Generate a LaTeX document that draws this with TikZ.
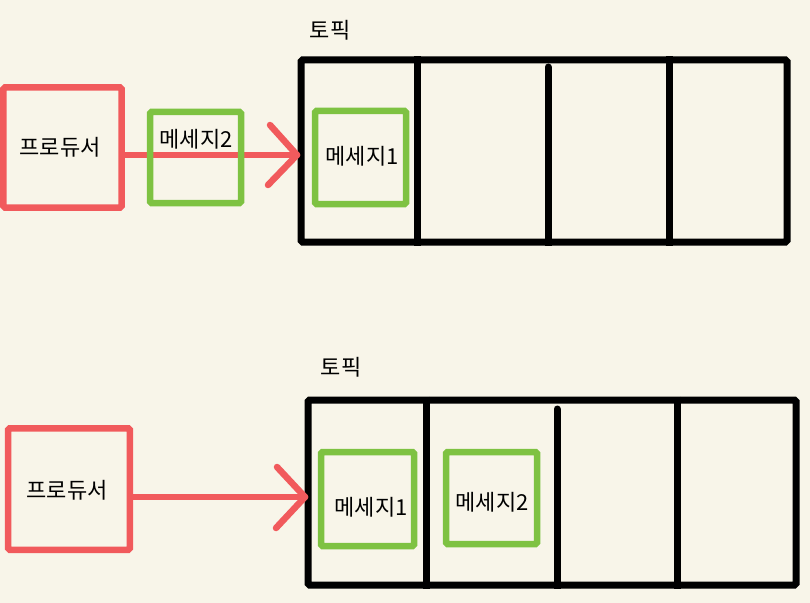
\documentclass[tikz,border=0pt]{standalone}
\usepackage{fontspec}
\newfontfamily\kr{Noto Sans CJK KR}
\usetikzlibrary{calc}
\definecolor{bgc}{HTML}{F8F5E9}
\definecolor{redc}{HTML}{F15A5C}
\definecolor{greenc}{HTML}{7EC242}
\tikzset{
  x=1bp, y=-1bp,
  prodbox/.style={draw=redc, line width=6.5bp, rounded corners=1.5bp, inner sep=0pt},
  msgbox/.style={draw=greenc, line width=6.5bp, rounded corners=1.5bp, inner sep=0pt},
  topicbox/.style={draw=black, line width=7bp, rounded corners=1.5bp, inner sep=0pt},
  divider/.style={draw=black, line width=7bp, line cap=butt},
  redline/.style={draw=redc, line width=6.5bp, line cap=round, line join=round},
  txt/.style={font=\kr\fontsize{22bp}{24bp}\selectfont, inner sep=0pt, text=black},
}
\begin{document}
\begin{tikzpicture}
\fill[bgc] (0,0) rectangle (810,603);
\useasboundingbox (0,0) rectangle (810,603);

% ---------- top ----------
\node[topicbox, minimum width=486bp, minimum height=182bp] (t1) at (544,151) {};
\draw[divider] (t1.north -| 417,0) -- (t1.south -| 417,0);
\draw[divider, line cap=round] (548,67) -- (548,239);
\draw[divider] (548,239) -- (t1.south -| 548,0);
\draw[divider] (t1.north -| 669,0) -- (t1.south -| 669,0);
\node[txt] (t1lab) at (330,30) {토픽};

\node[prodbox, minimum width=118bp, minimum height=120bp] (p1) at (62.5,147.5) {};
\node[txt] (p1lab) at (60,147) {프로듀서};

\coordinate (tip1) at (297,155);
\draw[redline] (p1.east |- tip1) -- (tip1);
\draw[redline] ($(tip1)+(-27,-30)$) -- (tip1) -- ($(tip1)+(-29,30)$);

\node[msgbox, minimum width=91bp, minimum height=91bp] (m2a) at (195.5,157.5) {};
\node[txt] (m2alab) at (196,139) {메세지2};

\node[msgbox, minimum width=91bp, minimum height=93bp] (m1a) at (360.5,157.5) {};
\node[txt] (m1alab) at (362,156) {메세지1};

% ---------- bottom ----------
\node[topicbox, minimum width=488bp, minimum height=185bp] (t2) at (552,492.5) {};
\draw[divider] (t2.north -| 426,0) -- (t2.south -| 426,0);
\draw[divider, line cap=round] (557,409) -- (557,582);
\draw[divider] (557,582) -- (t2.south -| 557,0);
\draw[divider] (t2.north -| 677,0) -- (t2.south -| 677,0);
\node[txt] (t2lab) at (341,367) {토픽};

\node[prodbox, minimum width=121.5bp, minimum height=121.5bp] (p2) at (69,489) {};
\node[txt] (p2lab) at (67,490) {프로듀서};

\coordinate (tip2) at (305,497);
\draw[redline] (p2.east |- tip2) -- (tip2);
\draw[redline] ($(tip2)+(-28,-30)$) -- (tip2) -- ($(tip2)+(-29,31)$);

\node[msgbox, minimum width=93bp, minimum height=94bp] (m1b) at (367.5,499) {};
\node[txt] (m1blab) at (371,507) {메세지1};

\node[msgbox, minimum width=91bp, minimum height=92bp] (m2b) at (491.5,498) {};
\node[txt] (m2blab) at (492,502) {메세지2};
\end{tikzpicture}
\end{document}
